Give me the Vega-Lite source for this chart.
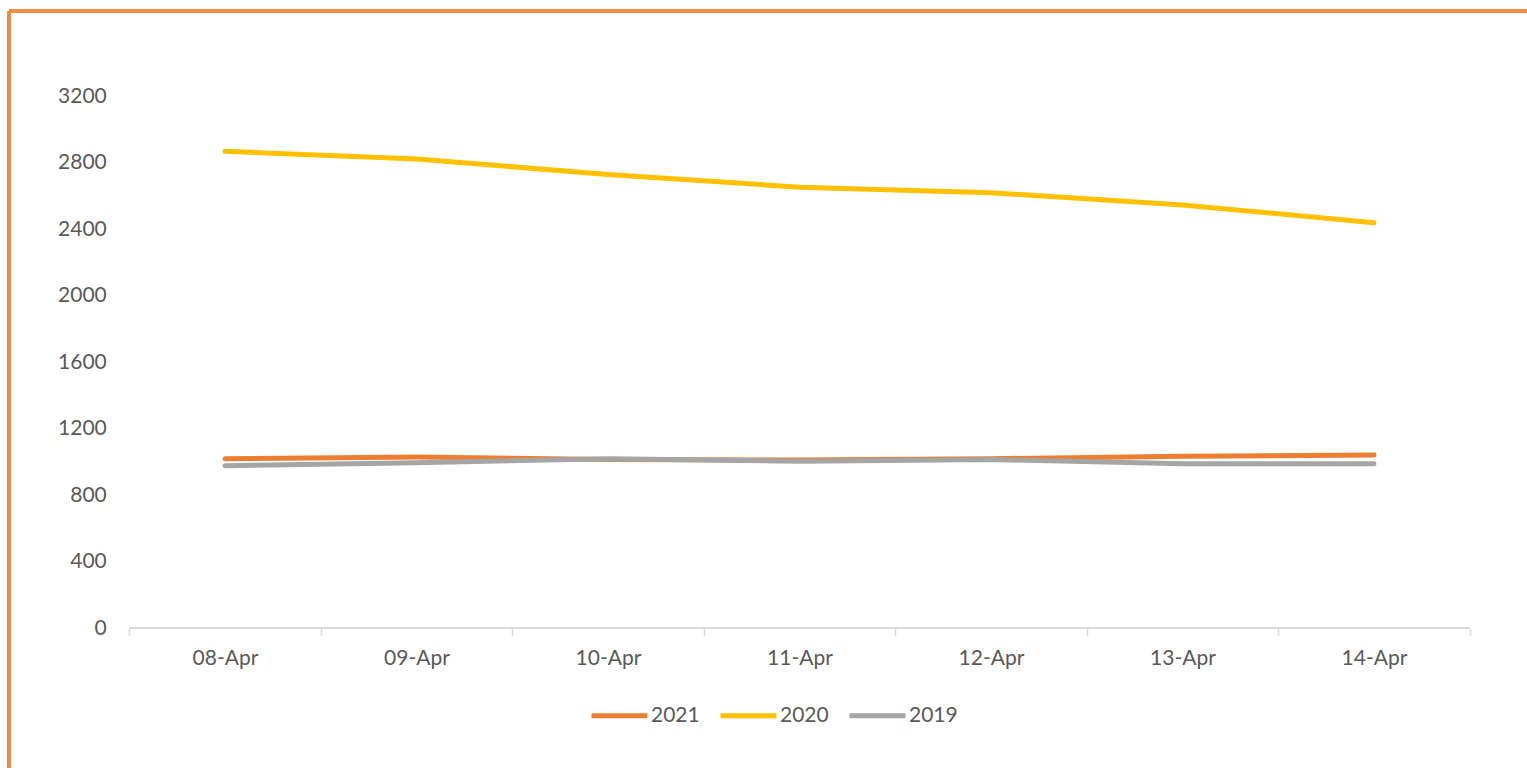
{
  "$schema": "https://vega.github.io/schema/vega-lite/v6.json",
  "width": 1518,
  "height": 757,
  "padding": {"left": 9, "top": 11, "right": 0, "bottom": 0},
  "autosize": {"type": "none"},
  "background": "white",
  "config": {
    "view": {"stroke": null},
    "font": "Lato",
    "axis": {"labelFont": "Lato", "labelColor": "#595959", "labelFontSize": 21, "grid": false},
    "legend": {"labelFont": "Lato", "labelColor": "#595959", "labelFontSize": 21}
  },
  "data": {
    "values": [
      {"date": "08-Apr", "day": 8, "year": "2021", "value": 1020},
      {"date": "09-Apr", "day": 9, "year": "2021", "value": 1030},
      {"date": "10-Apr", "day": 10, "year": "2021", "value": 1015},
      {"date": "11-Apr", "day": 11, "year": "2021", "value": 1012},
      {"date": "12-Apr", "day": 12, "year": "2021", "value": 1020},
      {"date": "13-Apr", "day": 13, "year": "2021", "value": 1035},
      {"date": "14-Apr", "day": 14, "year": "2021", "value": 1042},
      {"date": "08-Apr", "day": 8, "year": "2020", "value": 2869},
      {"date": "09-Apr", "day": 9, "year": "2020", "value": 2823},
      {"date": "10-Apr", "day": 10, "year": "2020", "value": 2730},
      {"date": "11-Apr", "day": 11, "year": "2020", "value": 2653},
      {"date": "12-Apr", "day": 12, "year": "2020", "value": 2620},
      {"date": "13-Apr", "day": 13, "year": "2020", "value": 2546},
      {"date": "14-Apr", "day": 14, "year": "2020", "value": 2440},
      {"date": "08-Apr", "day": 8, "year": "2019", "value": 978},
      {"date": "09-Apr", "day": 9, "year": "2019", "value": 996},
      {"date": "10-Apr", "day": 10, "year": "2019", "value": 1020},
      {"date": "11-Apr", "day": 11, "year": "2019", "value": 1005},
      {"date": "12-Apr", "day": 12, "year": "2019", "value": 1015},
      {"date": "13-Apr", "day": 13, "year": "2019", "value": 990},
      {"date": "14-Apr", "day": 14, "year": "2019", "value": 990}
    ]
  },
  "layer": [
    {
      "mark": {"type": "rule", "color": "#D9D9D9", "strokeWidth": 1.5},
      "encoding": {
        "x": {"datum": 7.5, "type": "quantitative"},
        "x2": {"datum": 14.5},
        "y": {"datum": 0, "type": "quantitative"}
      }
    },
    {
      "mark": {"type": "line", "strokeWidth": 5, "strokeCap": "round", "strokeJoin": "round"},
      "encoding": {
        "x": {
          "field": "day",
          "type": "quantitative",
          "scale": {"domain": [6.8721, 14.799], "nice": false, "zero": false},
          "axis": {
            "title": null,
            "values": [7.5, 8, 8.5, 9, 9.5, 10, 10.5, 11, 11.5, 12, 12.5, 13, 13.5, 14, 14.5],
            "domain": false,
            "offset": -139.7,
            "tickSize": 7,
            "tickColor": "#D9D9D9",
            "tickWidth": 1.5,
            "tickOpacity": {"condition": {"test": "datum.value % 1 === 0", "value": 0}, "value": 1},
            "labelExpr": "datum.value % 1 === 0 ? (datum.value < 10 ? '0' : '') + datum.value + '-Apr' : ''",
            "labelPadding": 12,
            "labelFlush": false,
            "labelOverlap": false
          }
        },
        "y": {
          "field": "value",
          "type": "quantitative",
          "scale": {"domain": [-840.3, 3713.1], "nice": false, "zero": false},
          "axis": {
            "title": null,
            "values": [0, 400, 800, 1200, 1600, 2000, 2400, 2800, 3200],
            "format": "d",
            "domain": false,
            "ticks": false,
            "offset": -120.3,
            "labelPadding": 23,
            "labelFlush": false,
            "labelOverlap": false
          }
        },
        "color": {
          "field": "year",
          "type": "nominal",
          "sort": ["2021", "2020", "2019"],
          "scale": {"domain": ["2021", "2020", "2019"], "range": ["#ED7D31", "#FFC000", "#A5A5A5"]},
          "legend": {
            "title": null,
            "orient": "none",
            "direction": "horizontal",
            "legendX": 580,
            "legendY": 674,
            "symbolType": "stroke",
            "symbolSize": 3136,
            "symbolStrokeWidth": 5,
            "labelOffset": 1,
            "columnPadding": 10,
            "padding": 0
          }
        }
      }
    },
    {
      "mark": {"type": "rule", "color": "#F08A3C", "strokeWidth": 2.5},
      "encoding": {"y": {"datum": 3713.1, "type": "quantitative"}}
    },
    {
      "mark": {"type": "rule", "color": "#F08A3C", "strokeWidth": 2.5},
      "encoding": {"x": {"datum": 6.8721, "type": "quantitative"}}
    }
  ]
}
